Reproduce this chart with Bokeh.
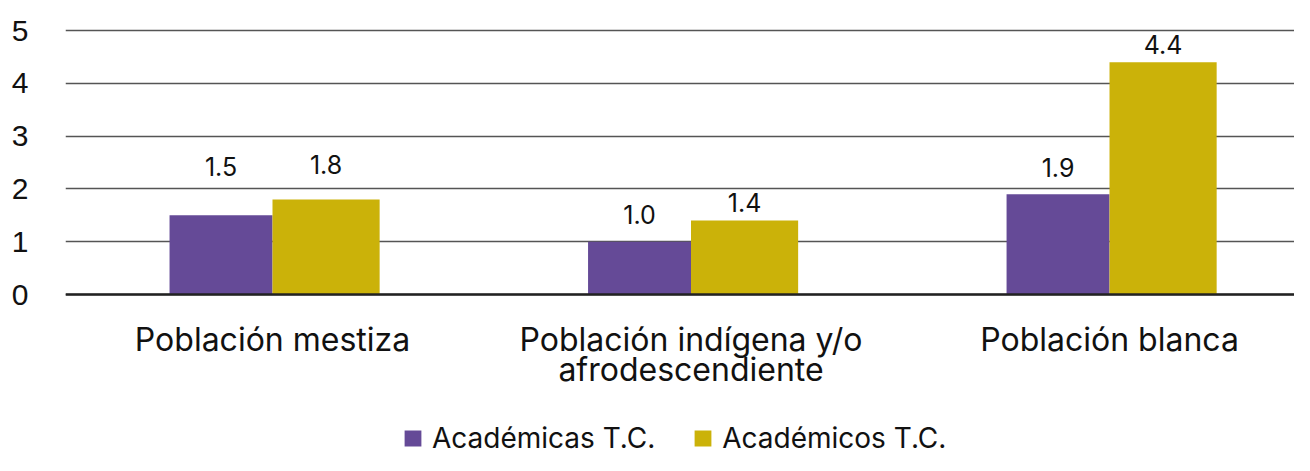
import numpy as np
from bokeh.plotting import figure
from bokeh.models import (ColumnDataSource, Range1d, FixedTicker, Legend, LegendItem, Span)
from bokeh.core.properties import value
from bokeh.embed import file_html
from bokeh.resources import INLINE

# ---- data ----
categories = ["Población mestiza", "Población indígena y/o\nafrodescendiente", "Población blanca"]
academicas = [1.5, 1.0, 1.9]
academicos = [1.8, 1.4, 4.4]
series_names = ["Académicas T.C.", "Académicos T.C."]
y_ticks = [0, 1, 2, 3, 4, 5]

# ---- styling ----
PURPLE = "#654a97"
GOLD = "#cbb209"
FONT = "Inter"
TXT = "#111111"
W_PURPLE = 0.246
W_GOLD = 0.256
lab_off_a = [49, 27, 27]   # px gap above purple bars
lab_off_b = [35, 18, 18]   # px gap above gold bars
PX_PER_UNIT = 52.8

W, H = 1294, 455
TOP, LEFT = 28, 65
ZERO_Y = 294  # screen y of value 0
y_top = 5 + (30 - TOP) / PX_PER_UNIT
y_bot = -(H - ZERO_Y) / PX_PER_UNIT

centers = np.arange(len(categories)) + 0.5

p = figure(width=W, height=H, output_backend="svg", toolbar_location=None,
           x_range=Range1d(0.0054, 2.942), y_range=Range1d(y_bot, y_top),
           min_border_left=LEFT, min_border_right=0, min_border_top=TOP,
           min_border_bottom=0)
p.outline_line_color = None
p.background_fill_color = "white"
p.border_fill_color = "white"

src_a = ColumnDataSource(dict(x=centers - W_PURPLE / 2, top=academicas,
                              lab=[f"{v:.1f}" for v in academicas],
                              off=[-o for o in lab_off_a]))
src_b = ColumnDataSource(dict(x=centers + W_GOLD / 2, top=academicos,
                              lab=[f"{v:.1f}" for v in academicos],
                              off=[-o for o in lab_off_b]))

ra = p.vbar(x="x", top="top", width=W_PURPLE, bottom=0, source=src_a,
            fill_color=PURPLE, line_color=None)
rb = p.vbar(x="x", top="top", width=W_GOLD, bottom=0, source=src_b,
            fill_color=GOLD, line_color=None)

for s in (src_a, src_b):
    p.text(x="x", y="top", text="lab", source=s, y_offset="off",
           text_align="center", text_baseline="alphabetic",
           text_font=value(FONT), text_font_size="25px", text_color=TXT)

# category labels below the zero line (one text row per line)
lines = [c.split("\n") for c in categories]
row1 = [l[0] for l in lines]
row2 = [l[1] if len(l) > 1 else "" for l in lines]
zeros = [0] * len(categories)
for rows, off in ((row1, 45), (row2, 75)):
    s = ColumnDataSource(dict(x=centers, y=zeros, t=rows))
    p.text(x="x", y="y", text="t", source=s, y_offset=off,
           text_align="center", text_baseline="alphabetic",
           text_font=value(FONT), text_font_size="32px", text_color=TXT)

# grid
p.xgrid.visible = False
p.ygrid.ticker = FixedTicker(ticks=y_ticks)
p.ygrid.grid_line_color = "#555555"
p.ygrid.grid_line_width = 1.5

p.add_layout(Span(location=0, dimension="width", line_color="#222222", line_width=2.5))

# y axis
p.yaxis.ticker = FixedTicker(ticks=y_ticks)
p.yaxis.axis_line_color = None
p.yaxis.major_tick_line_color = None
p.yaxis.minor_tick_line_color = None
p.yaxis.major_label_standoff = 31
p.yaxis.major_label_text_font = "Liberation Sans"
p.yaxis.major_label_text_font_size = "30px"
p.yaxis.major_label_text_color = TXT

p.xaxis.visible = False

legend = Legend(items=[LegendItem(label=series_names[0], renderers=[ra]),
                       LegendItem(label=series_names[1], renderers=[rb])],
                orientation="horizontal", location=(337, 0),
                glyph_width=21, glyph_height=20, label_standoff=9, spacing=37,
                padding=0, margin=0, border_line_color=None,
                background_fill_alpha=0,
                label_text_font=FONT, label_text_font_size="28px",
                label_text_color=TXT)
p.add_layout(legend, "center")

open("out.html", "w").write(file_html(p, INLINE))
